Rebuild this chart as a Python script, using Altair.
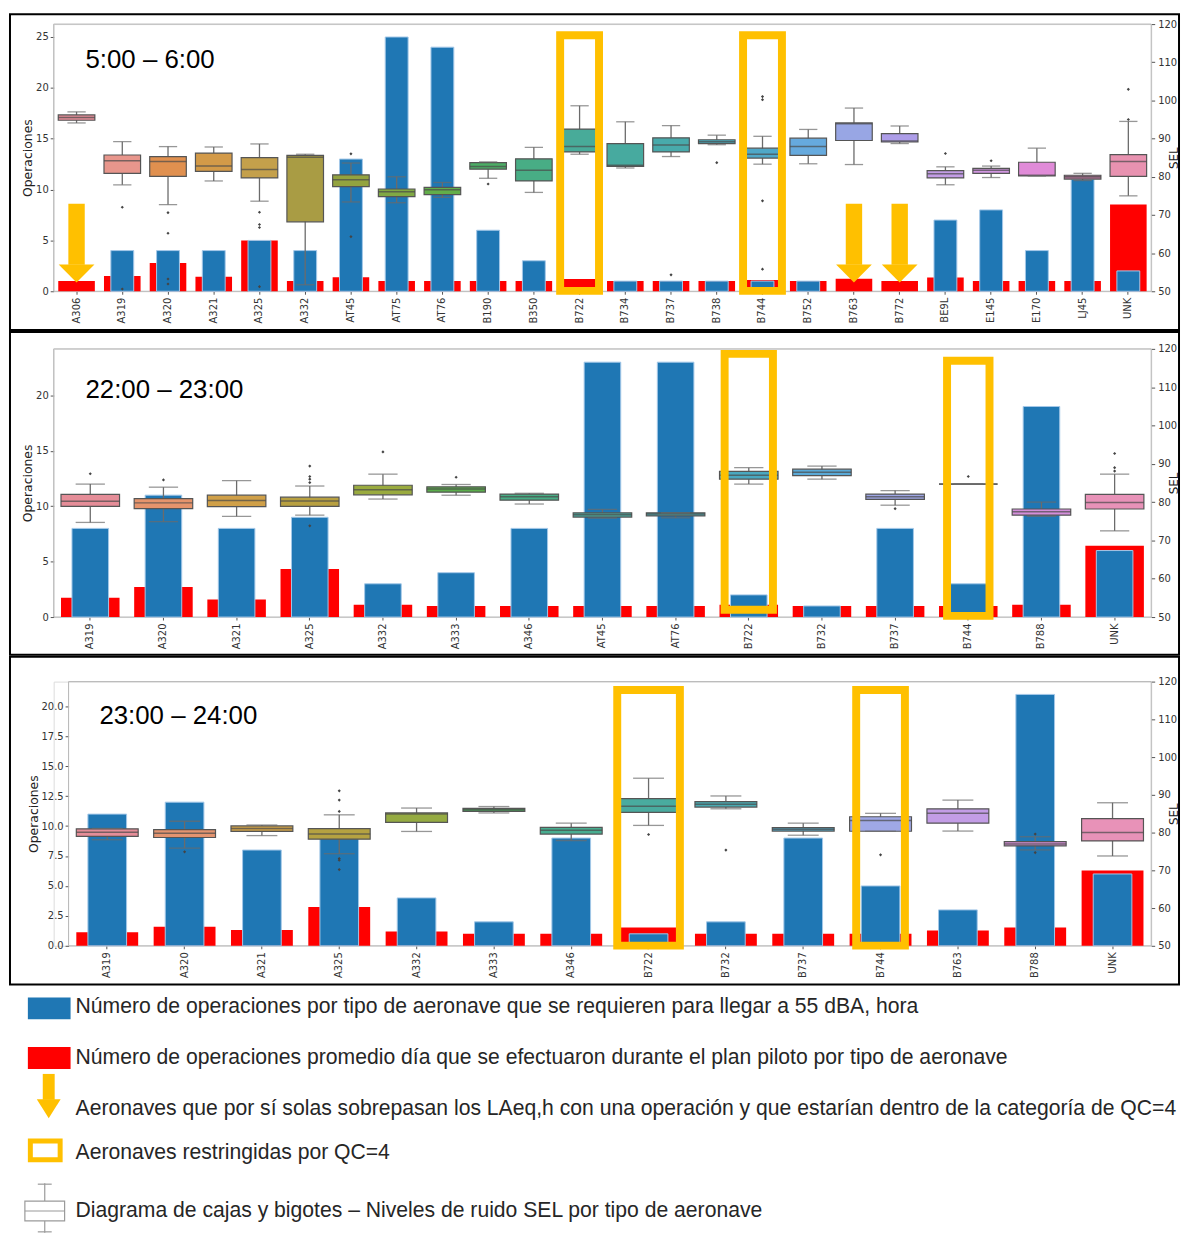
import altair as alt
import pandas as pd

# ---------------- data ----------------
# Panel 1 : 5:00 - 6:00
P1_CATS = ["A306", "A319", "A320", "A321", "A325", "A332", "AT45", "AT75", "AT76", "B190", "B350", "B722",
           "B734", "B737", "B738", "B744", "B752", "B763", "B772", "BE9L", "E145", "E170", "LJ45", "UNK"]
P1_REQ = [0, 4, 4, 4, 5, 4, 13, 25, 24, 6, 3, 0, 1, 1, 1, 1, 1, 0, 0, 7, 8, 4, 11, 2]
P1_ACT = [1.0, 1.5, 2.78, 1.42, 5.0, 1.0, 1.39, 1.0, 1.0, 1.0, 1.0, 1.2, 1.0, 1.0, 1.0, 1.1, 1.0, 1.23, 1.0,
          1.36, 1.0, 1.0, 1.0, 8.52]
P1_LO = [94.1, 77.9, 72.7, 78.9, 73.6, 51.7, 73.4, 73.2, 74.6, 79.6, 75.9, 85.9, 82.3, 85.3, 88.4, 83.3, 83.4,
         83.2, 88.7, 77.9, 79.8, 80.2, 79.0, 75.0]
P1_Q1 = [94.8, 80.9, 80.1, 81.4, 79.7, 68.2, 77.4, 74.8, 75.3, 82.0, 78.9, 86.5, 82.7, 86.5, 88.7, 84.9, 85.6,
         89.5, 89.1, 79.7, 80.9, 80.2, 79.4, 80.1]
P1_MED = [95.5, 84.2, 84.0, 82.8, 81.9, 85.1, 79.2, 76.1, 76.6, 82.7, 81.7, 87.9, 83.0, 88.3, 89.2, 85.9, 87.9,
          93.9, 89.4, 80.8, 81.7, 80.4, 80.0, 84.0]
P1_Q3 = [96.2, 85.7, 85.3, 86.2, 85.0, 85.6, 80.5, 76.8, 77.2, 83.7, 84.7, 92.5, 88.7, 90.2, 89.7, 87.5, 90.1,
         94.1, 91.3, 81.6, 82.2, 83.8, 80.4, 85.8]
P1_HI = [97.0, 89.2, 87.9, 87.8, 88.6, 85.9, 83.6, 80.0, 78.5, 83.9, 87.7, 98.6, 94.4, 93.4, 90.9, 90.6, 92.4,
         98.0, 93.3, 82.6, 82.8, 87.5, 80.9, 94.5]
P1_OUT = [[], [72.0, 50.6], [70.6, 65.2, 53.2, 51.9], [], [70.7, 67.5, 66.7, 51.2], [], [86.0, 64.3], [], [],
          [78.1], [], [], [], [54.3], [83.7], [101.0, 100.2, 73.7, 55.8], [], [], [], [86.1], [84.2], [], [],
          [102.9, 95.0]]
P1_QC4 = ["B722", "B744"]
P1_SINGLE = ["A306", "B763", "B772"]

# Panel 2 : 22:00 - 23:00
P2_CATS = ["A319", "A320", "A321", "A325", "A332", "A333", "A346", "AT45", "AT76", "B722", "B732", "B737",
           "B744", "B788", "UNK"]
P2_REQ = [8, 11, 8, 9, 3, 4, 8, 23, 23, 2, 1, 8, 3, 19, 6]
P2_ACT = [1.74, 2.72, 1.59, 4.34, 1.1, 1.0, 1.0, 1.0, 1.0, 1.1, 1.0, 1.0, 1.0, 1.1, 6.44]
P2_LO = [74.7, 74.9, 76.3, 76.6, 80.8, 81.8, 79.5, 75.8, 75.9, 84.7, 86.0, 79.2, 84.7, 76.3, 72.5]
P2_Q1 = [78.9, 78.3, 78.8, 78.9, 81.9, 82.6, 80.5, 76.1, 76.4, 86.0, 86.9, 80.7, 84.7, 76.6, 78.2]
P2_MED = [80.2, 79.8, 80.4, 80.3, 83.2, 83.4, 81.4, 76.7, 76.9, 87.0, 87.8, 81.4, 84.7, 77.5, 79.9]
P2_Q3 = [82.0, 80.9, 81.8, 81.3, 84.4, 84.0, 82.1, 77.2, 77.2, 88.0, 88.6, 82.1, 84.7, 78.2, 82.0]
P2_HI = [84.7, 83.9, 85.6, 84.2, 87.3, 84.6, 82.3, 78.1, 77.2, 89.0, 89.4, 83.0, 84.7, 80.0, 87.3]
P2_OUT = [[87.4], [85.8], [], [89.4, 86.7, 86.0, 85.1, 73.8], [93.1], [86.5], [], [], [], [], [], [78.3],
          [86.7], [], [92.7, 89.0, 88.1]]
P2_QC4 = ["B722", "B744"]

# Panel 3 : 23:00 - 24:00
P3_CATS = ["A319", "A320", "A321", "A325", "A332", "A333", "A346", "B722", "B732", "B737", "B744", "B763",
           "B788", "UNK"]
P3_REQ = [11, 12, 8, 9, 4, 2, 9, 1, 2, 9, 5, 3, 21, 6]
P3_ACT = [1.13, 1.6, 1.33, 3.24, 1.19, 1.0, 1.0, 1.52, 1.0, 1.0, 1.0, 1.27, 1.52, 6.3]
P3_LO = [78.1, 75.9, 79.2, 74.4, 80.3, 85.2, 77.9, 81.9, 86.3, 79.3, 80.35, 80.4, 75.4, 73.8]
P3_Q1 = [79.0, 78.7, 80.3, 78.25, 82.7, 85.6, 79.6, 85.35, 86.75, 80.4, 80.35, 82.5, 76.5, 77.8]
P3_MED = [80.1, 79.8, 81.1, 79.6, 84.9, 86.05, 80.6, 87.0, 87.5, 80.9, 83.2, 85.1, 77.0, 80.0]
P3_Q3 = [81.0, 80.8, 81.75, 81.05, 85.2, 86.4, 81.4, 89.0, 88.2, 81.3, 84.2, 86.3, 77.6, 83.7]
P3_HI = [81.1, 83.0, 82.0, 84.7, 86.5, 86.9, 82.5, 94.4, 89.7, 82.5, 85.1, 88.6, 78.9, 87.9]
P3_OUT = [[], [74.9], [], [91.05, 88.6, 85.6, 73.1, 72.7, 70.2], [], [], [], [79.5], [75.35], [], [74.1], [],
          [79.6, 74.7], []]
P3_QC4 = ["B722", "B744"]

PANEL_LABELS = ["5:00 \u2013 6:00", "22:00 \u2013 23:00", "23:00 \u2013 24:00"]
LEGEND_TEXTS = [
    "N\u00famero de operaciones por tipo de aeronave que se requieren para llegar a 55 dBA, hora",
    "N\u00famero de operaciones promedio d\u00eda que se efectuaron durante el plan piloto por tipo de aeronave",
    "Aeronaves que por s\u00ed solas sobrepasan los LAeq,h con una operaci\u00f3n y que estar\u00edan dentro de la categor\u00eda de QC=4",
    "Aeronaves restringidas por QC=4",
    "Diagrama de cajas y bigotes \u2013 Niveles de ruido SEL por tipo de aeronave",
]

# ---------------- styles ----------------
BLUE = "#1f77b4"
RED = "#ff0000"
GOLD = "#ffc000"
P1_COLORS = ["#e58d98", "#e8968c", "#e0904f", "#d39a48", "#c4a04b", "#a99c44", "#93a33f", "#80a944",
             "#62ae4a", "#4cad65", "#48ad85", "#48ab99", "#47aa9f", "#48aaab", "#49a8b8", "#4fa8c8",
             "#66aade", "#98a6e4", "#ad9de8", "#c39de6", "#d196e0", "#e08bd8", "#b57399", "#e892b0"]
P2_COLORS = ["#e58d98", "#e6946c", "#d0a048", "#b8a040", "#9aab3f", "#5aae4b", "#48ad85", "#48ab9e",
             "#4aaab0", "#4aa8c0", "#5aaad8", "#9ea6e4", "#9f9fe6", "#d48fdb", "#e892b8"]
P3_COLORS = ["#e58d98", "#e39470", "#cfa24a", "#b5a241", "#95ab42", "#4aad5c", "#48ad90", "#49ab9f",
             "#4aaab2", "#50a8c8", "#9fa8e6", "#c39de6", "#d48fd8", "#e892b8"]

ARROW_HEAD = "M-1,-0.5L1,-0.5L0,0.5Z"
FONT_AX = "DejaVu Sans"
FONT_TXT = "Liberation Sans"
W_ALL = 1105


def panel(cats, req, act, lo, q1, med, q3, hi, outl, colors, label, left_max, left_ticks, left_fmt,
          qc4, qc4_box, qc4_w, single, H, x0, frame, label_pos):
    band = (W_ALL - x0) / len(cats)
    bars = pd.DataFrame({"cat": cats, "req": req, "act": act})
    box = pd.DataFrame({"cat": cats, "lo": lo, "q1": q1, "med": med, "q3": q3, "hi": hi, "col": colors})
    rows = [(c, v) for c, vs in zip(cats, outl) for v in vs]
    outdf = pd.DataFrame(rows, columns=["cat", "v"])
    one = pd.DataFrame({"t": [label]})

    xsc = alt.Scale(domain=cats, range=[x0, W_ALL], paddingInner=0, paddingOuter=0)
    x_axis = alt.Axis(title=None, labelAngle=270, labelFontSize=10, labelFont=FONT_AX,
                      labelColor="#333333", tickSize=3, tickColor="#555555", labelPadding=3,
                      domain=False, labelOverlap=False)

    def X():
        return alt.X("cat:N", scale=xsc, axis=x_axis, title=None)

    yl = alt.Scale(domain=[0, left_max], nice=False, zero=True)
    yr = alt.Scale(domain=[50, 120], nice=False, zero=False)
    left_axis = alt.Axis(orient="left", values=left_ticks, format=left_fmt, grid=False,
                         labelOverlap=False, labelFontSize=10, labelFont=FONT_AX, labelColor="#333333",
                         titleFont=FONT_AX, titleFontSize=12.5, titleFontWeight="normal",
                         titleColor="#222222", tickSize=3.5, tickColor="#555555", domain=False,
                         titlePadding=1, offset=-x0)
    right_axis = alt.Axis(orient="right", values=list(range(50, 121, 10)), grid=False,
                          labelOverlap=False, labelFontSize=10, labelFont=FONT_AX, labelColor="#333333",
                          titleFont=FONT_AX, titleFontSize=12, titleFontWeight="normal",
                          titleColor="#222222", titleAngle=270, titleBaseline="top", titleX=17,
                          titleY=H / 2, tickSize=3.5, tickColor="#555555", domain=False, labelPadding=3)

    def yL(f):
        return alt.Y(f, scale=yl, axis=left_axis, title="Operaciones")

    def yR(f):
        return alt.Y(f, scale=yr, axis=right_axis, title="SEL")

    frame_l = alt.Chart(one).mark_rect(filled=False, stroke="black", strokeWidth=2).encode(
        x=alt.value(frame[0]), x2=alt.value(frame[1]), y=alt.value(frame[2]), y2=alt.value(frame[3]))
    border = alt.Chart(one).mark_rect(filled=False, stroke="#b5b5b5", strokeWidth=1).encode(
        x=alt.value(x0), x2=alt.value(W_ALL), y=alt.value(0), y2=alt.value(H))
    red = alt.Chart(bars).mark_bar(color=RED, width=alt.RelativeBandSize(0.8)).encode(
        x=X(), y=yL("act:Q"))
    blue = alt.Chart(bars).transform_filter("datum.req > 0").mark_bar(
        color=BLUE, stroke="#a3c8e8", strokeWidth=1, width=alt.RelativeBandSize(0.5)).encode(
        x=X(), y=yL("req:Q"))
    left_layers = [frame_l, border, red, blue]
    if single:
        adf = pd.DataFrame({"cat": single, "top": [8.6] * len(single), "base": [2.6] * len(single),
                            "head": [1.75] * len(single)})
        left_layers.append(alt.Chart(adf).mark_bar(color=GOLD, width=16.5).encode(
            x=X(), y=yL("top:Q"), y2="base:Q"))
        left_layers.append(alt.Chart(adf).mark_point(shape=ARROW_HEAD, size=1296, filled=True,
                                                     color=GOLD, opacity=1, strokeWidth=0).encode(
            x=X(), y=yL("head:Q")))
    left_layers.append(alt.Chart(one).mark_text(align="left", baseline="middle", font=FONT_TXT,
                                                fontSize=26, color="black").encode(
        text="t:N", x=alt.value(label_pos[0]), y=alt.value(label_pos[1])))
    left = alt.layer(*left_layers)

    whisk = alt.Chart(box).mark_rule(color="#6b6b6b", strokeWidth=1.3).encode(
        x=X(), y=yR("lo:Q"), y2="hi:Q")
    boxes = alt.Chart(box).mark_bar(width=alt.RelativeBandSize(0.8), stroke="#555555",
                                    strokeWidth=1.2).encode(
        x=X(), y=yR("q1:Q"), y2="q3:Q", color=alt.Color("col:N", scale=None))
    medians = alt.Chart(box).mark_tick(color="#4a4a4a", thickness=1.5, size=band * 0.8).encode(
        x=X(), y=yR("med:Q"))
    cap_lo = alt.Chart(box).mark_tick(color="#6b6b6b", thickness=1.3, size=band * 0.4).encode(
        x=X(), y=yR("lo:Q"))
    cap_hi = alt.Chart(box).mark_tick(color="#6b6b6b", thickness=1.3, size=band * 0.4).encode(
        x=X(), y=yR("hi:Q"))
    right_layers = [whisk, boxes, medians, cap_lo, cap_hi]
    if len(outdf):
        right_layers.append(alt.Chart(outdf).mark_point(shape="diamond", filled=True, size=10,
                                                        color="#444444", opacity=1).encode(
            x=X(), y=yR("v:Q")))
    for c, (t, b), w in zip(qc4, qc4_box, qc4_w):
        hdf = pd.DataFrame({"cat": [c], "top": [t], "bot": [b]})
        right_layers.append(alt.Chart(hdf).mark_bar(filled=False, stroke=GOLD, strokeWidth=8,
                                                    width=alt.RelativeBandSize(w)).encode(
            x=X(), y=yR("top:Q"), y2="bot:Q"))
    right = alt.layer(*right_layers)

    return alt.layer(left, right).resolve_scale(y="independent").properties(width=W_ALL, height=H)


p1 = panel(P1_CATS, P1_REQ, P1_ACT, P1_LO, P1_Q1, P1_MED, P1_Q3, P1_HI, P1_OUT, P1_COLORS, PANEL_LABELS[0],
           26.27, [0, 5, 10, 15, 20, 25], "d", P1_QC4, [(117.1, 50.1), (117.1, 50.1)], [0.85, 0.85],
           P1_SINGLE, 269, 0, (-44, 1133, -10, 308), (32, 36))
p2 = panel(P2_CATS, P2_REQ, P2_ACT, P2_LO, P2_Q1, P2_MED, P2_Q3, P2_HI, P2_OUT, P2_COLORS, PANEL_LABELS[1],
           24.2, [0, 5, 10, 15, 20], "d", P2_QC4, [(118.7, 51.9), (116.9, 50.3)], [0.66, 0.58],
           [], 270, 0, (-44, 1133, -17, 308), (32, 41))
p3 = panel(P3_CATS, P3_REQ, P3_ACT, P3_LO, P3_Q1, P3_MED, P3_Q3, P3_HI, P3_OUT, P3_COLORS, PANEL_LABELS[2],
           22.07, [0, 2.5, 5, 7.5, 10, 12.5, 15, 17.5, 20], ".1f", P3_QC4, [(117.8, 50.05), (117.8, 50.05)],
           [0.81, 0.63], [], 266, 15, (-44, 1133, -25, 305), (46, 35))

# ---------------- legend block ----------------
LEG_Y = [21, 72, 123, 168, 226]
LEG_X = 22
one = pd.DataFrame({"k": [0]})


def vrect(a, b, c, d, **kw):
    return alt.Chart(one).mark_rect(**kw).encode(x=alt.value(a), x2=alt.value(b), y=alt.value(c),
                                                   y2=alt.value(d))


def vrule(a, b, c, d, **kw):
    return alt.Chart(one).mark_rule(**kw).encode(x=alt.value(a), x2=alt.value(b), y=alt.value(c),
                                                   y2=alt.value(d))


leg_layers = [
    vrect(-26, 17, 11, 33, color=BLUE),
    vrect(-26, 17, 61, 83, color=RED),
    vrect(-11, 1, 88, 114, color=GOLD),
    alt.Chart(one).mark_point(shape="M-1,-0.8L1,-0.8L0,0.8Z", size=576, filled=True, color=GOLD,
                              opacity=1, strokeWidth=0).encode(x=alt.value(-5), y=alt.value(123)),
    vrect(-23.5, 6.5, 155.5, 174.5, filled=False, stroke=GOLD, strokeWidth=5),
    vrule(-9, -9, 198, 248, color="#9a9a9a", strokeWidth=1.2),
    vrule(-16, -2, 199, 199, color="#9a9a9a", strokeWidth=1.2),
    vrule(-16, -2, 247, 247, color="#9a9a9a", strokeWidth=1.2),
    vrect(-29, 11, 216, 236, fill="white", stroke="#9a9a9a", strokeWidth=1.2),
    vrule(-29, 11, 226, 226, color="#9a9a9a", strokeWidth=1.2),
]
for txt, yy in zip(LEGEND_TEXTS, LEG_Y):
    leg_layers.append(alt.Chart(pd.DataFrame({"t": [txt]})).mark_text(
        align="left", baseline="middle", font=FONT_TXT, fontSize=21.3, color="#262626").encode(
        text="t:N", x=alt.value(LEG_X), y=alt.value(yy)))
legend = alt.layer(*leg_layers).properties(width=1100, height=250,
                                           view=alt.ViewBackground(strokeOpacity=0, strokeWidth=0))

chart = alt.vconcat(p1, p2, p3, legend, spacing=-2).properties(padding=0).configure_view(
    strokeOpacity=0, strokeWidth=0).configure(background="white")

chart.save("out.html", embed_options={"renderer": "svg", "actions": False})
